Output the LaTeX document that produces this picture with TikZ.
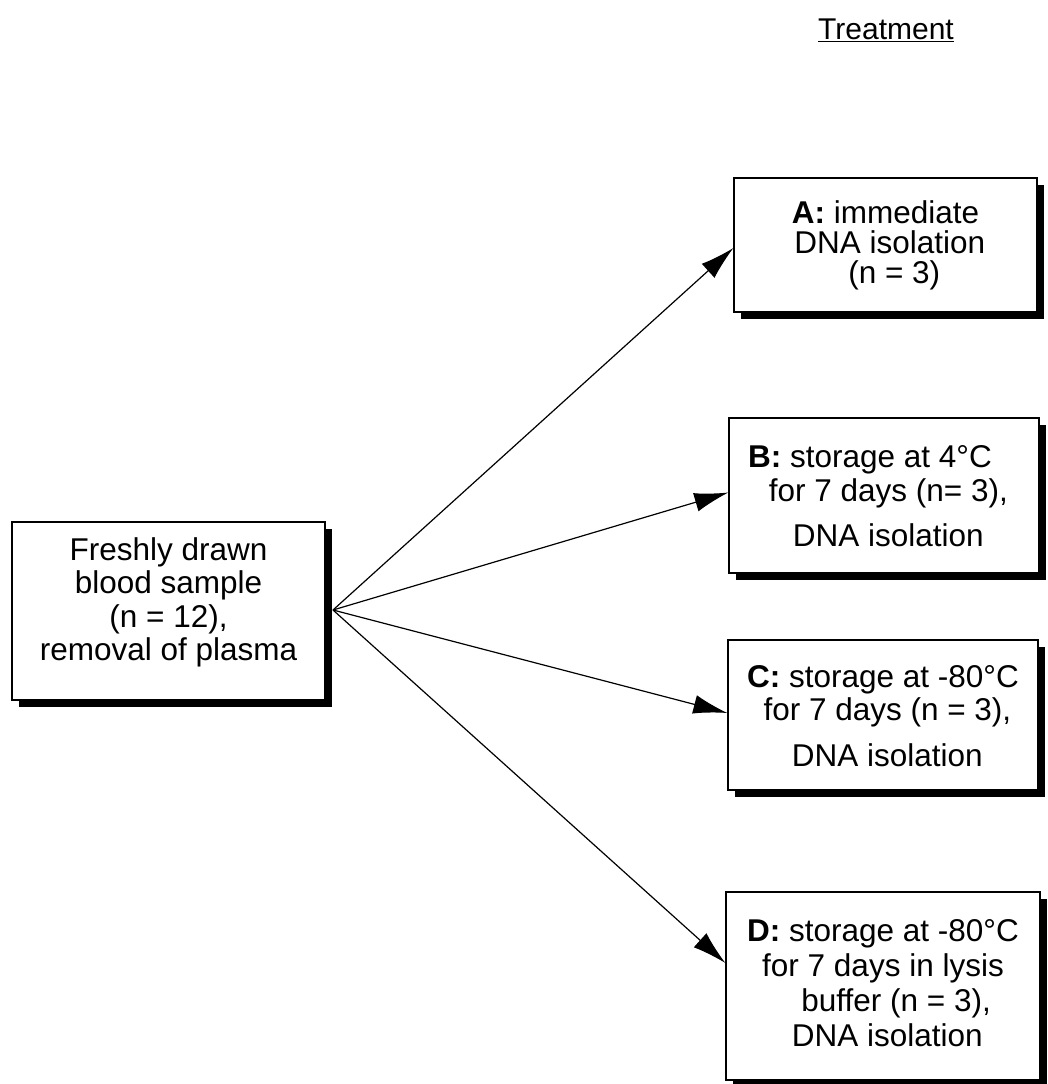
\documentclass[tikz,border=0pt]{standalone}
\usepackage{fontspec}
\setmainfont{Liberation Sans}
\usetikzlibrary{arrows.meta,shadows}
\begin{document}
\begin{tikzpicture}[x=1pt,y=-1pt,
  box/.style={draw=black, line width=1.2pt, fill=white, align=center, inner sep=0pt,
    font=\fontsize{31.5}{33.5}\selectfont,
    drop shadow={opacity=1, fill=black, shadow xshift=7pt, shadow yshift=-7pt}},
  arr/.style={line width=1.2pt, -{Latex[length=34pt,width=19pt]}}]
\useasboundingbox (0,0) rectangle (1047,1084);
\node[box, minimum width=313pt, minimum height=178pt] (S) at (168.5,611) {Freshly drawn\\blood sample\\(n = 12),\\removal of plasma\\[-9.5pt]\mbox{}};
\node[box, minimum width=303pt, minimum height=134pt, font=\fontsize{31.5}{30}\selectfont] (A) at (885.5,245) {\textbf{A:}\ immediate\\\ DNA isolation\\\ \ (n = 3)};
\node[box, minimum width=310pt, minimum height=155pt] (B) at (884,495.5) {\textbf{B:} storage at 4°C\hspace*{28pt}\\\ for 7 days (n= 3),\\[12pt]\ DNA isolation\\[-34.5pt]\mbox{}};
\node[box, minimum width=310pt, minimum height=150pt] (C) at (883,715) {\textbf{C:} storage at -80°C\\\ for 7 days (n = 3),\\[12pt]\ DNA isolation\\[-35pt]\mbox{}};
\node[box, minimum width=314pt, minimum height=188pt, font=\fontsize{31.5}{35}\selectfont] (D) at (883,986) {\textbf{D:} storage at -80°C\\for 7 days in lysis\\\ \ \ buffer (n = 3),\\\ DNA isolation\\[-28pt]\mbox{}};
\node[font=\fontsize{30}{32}\selectfont] (T) at (886,30) {\underline{Treatment}};
\coordinate (src) at (333,610);
\draw[arr] (src) -- ([yshift=-3pt]A.west);
\draw[arr] (src) -- ([yshift=3pt]B.west);
\draw[arr] (src) -- ([yshift=2pt]C.west);
\draw[arr] (src) -- ([yshift=23pt]D.west);
\end{tikzpicture}
\end{document}
